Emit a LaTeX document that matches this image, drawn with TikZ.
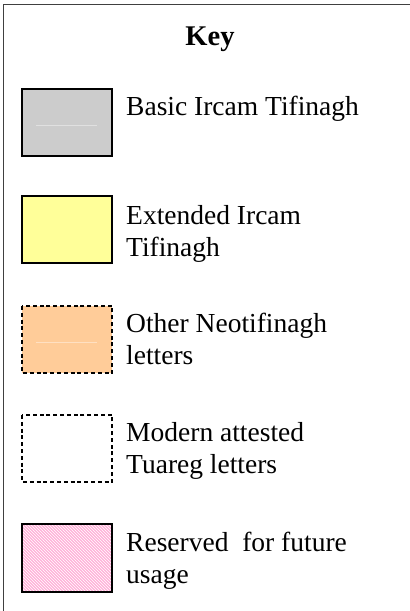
\documentclass[tikz,border=0pt]{standalone}
\usepackage{fontspec}
\setmainfont{Liberation Serif}
\usetikzlibrary{patterns}
\definecolor{keygray}{HTML}{CCCCCC}
\definecolor{keyyellow}{HTML}{FFFF99}
\definecolor{keyorange}{HTML}{FFCC99}
\definecolor{keypink}{HTML}{FF99CC}
\begin{document}
\begin{tikzpicture}[x=1pt,y=-1pt,
  solidbox/.style={draw=black,line width=2.3pt},
  dashbox/.style={draw=black,line width=2pt,dash pattern=on 4pt off 2.8pt},
  keylabel/.style={anchor=base west,inner sep=0pt,align=left,font=\fontsize{27.5}{32}\selectfont},
  faint/.style={line width=0.8pt}]
\useasboundingbox (0,0) rectangle (410,611);
\fill[white] (0,0) rectangle (410,611);
% frame
\draw[line width=1.6pt,black!75] (3.5,611) -- (3.5,4.5) -- (410,4.5);
\node[anchor=base,inner sep=0pt,font=\fontsize{28.5}{32}\selectfont\bfseries] (key) at (210,45) {Key};
% basic
\filldraw[solidbox,fill=keygray] (22,89) rectangle (112,156);
\draw[faint,white!88!black] (36,125) -- (97,125);
\node[keylabel] (basic) at (126,115) {Basic Ircam Tifinagh};
% extended
\filldraw[solidbox,fill=keyyellow] (22,196) rectangle (112,263);
\node[keylabel] (ext) at (126,256) {Extended Ircam\\Tifinagh};
% other
\fill[keyorange] (22,306) rectangle (112,373);
\draw[dashbox] (22,306) rectangle (112,373);
\draw[faint,keyorange!60!white] (36,342) -- (97,342);
\node[keylabel] (other) at (126,364) {Other Neotifinagh\\letters};
% modern
\draw[dashbox] (22,415) rectangle (112,482);
\node[keylabel] (modern) at (126,473) {Modern attested\\Tuareg letters};
% reserved
\fill[keypink!75!white] (22,524) rectangle (112,592);
\fill[pattern=north west lines,pattern color=white] (22,524) rectangle (112,592);
\draw[solidbox] (22,524) rectangle (112,592);
\node[keylabel] (reserved) at (126,583) {Reserved~ for future\\usage};
\end{tikzpicture}
\end{document}
